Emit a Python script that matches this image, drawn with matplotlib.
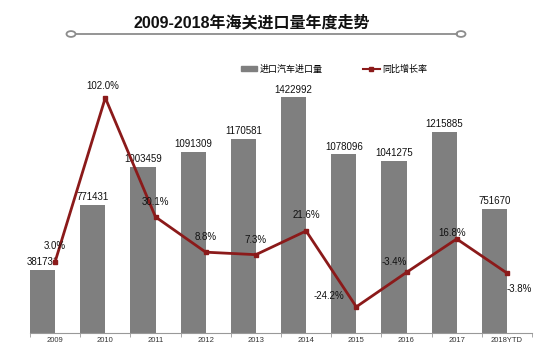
import matplotlib
matplotlib.use("Agg")
import matplotlib.pyplot as plt
from matplotlib.patches import Circle
from matplotlib.lines import Line2D
from matplotlib.patches import Patch

plt.rcParams['font.family'] = ['Liberation Sans', 'Noto Sans CJK SC', 'DejaVu Sans']

years = ['2009', '2010', '2011', '2012', '2013', '2014', '2015', '2016', '2017', '2018YTD']
volume = [381731, 771431, 1003459, 1091309, 1170581, 1422992, 1078096, 1041275, 1215885, 751670]
growth = [3.0, 102.0, 30.1, 8.8, 7.3, 21.6, -24.2, -3.4, 16.8, -3.8]

bar_color = '#7f7f7f'
line_color = '#8b1a1a'

fig = plt.figure(figsize=(5.5, 3.55), dpi=100)
ax = fig.add_axes([30 / 550, 1 - 333 / 355, 502 / 550, 265 / 355])
ax2 = ax.twinx()

x = list(range(len(years)))
ax.bar([i - 0.25 for i in x], volume, width=0.5, color=bar_color, zorder=2)
for i, v in zip(x, volume):
    ax.annotate(str(v), (i - 0.25, v), xytext=(0, 2), textcoords='offset points',
                ha='center', va='bottom', fontsize=7, color='#111111')

ax.set_xlim(-0.5, len(years) - 0.5)
ax.set_ylim(0, 1600000)
ax.set_yticks([])
ax.set_xticks(x)
ax.set_xticklabels(years, fontsize=5.5, color='#333333')
ax.tick_params(axis='x', length=0, pad=3)
ax.set_xticks([i - 0.5 for i in range(len(years) + 1)], minor=True)
ax.tick_params(axis='x', which='minor', length=3, color='#999999')
for s in ['top', 'right', 'left']:
    ax.spines[s].set_visible(False)
ax.spines['bottom'].set_color('#999999')

ax2.plot(x, growth, color=line_color, lw=2, marker='s', ms=3.5, zorder=3)
ax2.set_ylim(-40, 120)
ax2.set_yticks([])
for s in ax2.spines.values():
    s.set_visible(False)

# label offsets (points) for the growth labels
offs = [(0, 8), (-2, 5), (0, 7), (0, 7), (0, 7), (0, 8), (-20, 4), (-9, 4), (-3, 1), (9, -15)]
for i, g, o in zip(x, growth, offs):
    ax2.annotate('%.1f%%' % g, (i, g), xytext=o, textcoords='offset points',
                 ha='center', va='bottom', fontsize=7, color='#111111')

# title and decorative rule
fig.text(252 / 550, 1 - 22 / 355, '2009-2018年海关进口量年度走势', ha='center', va='center',
         fontsize=11.5, fontweight='bold', color='#111111')
fig.add_artist(Line2D([76 / 550, 457 / 550], [1 - 34 / 355, 1 - 34 / 355],
                      transform=fig.transFigure, color='#8c8c8c', lw=1.3))
for cx in (71, 461):
    fig.add_artist(Circle((cx / 550, 1 - 34 / 355), 4.5 / 550, transform=fig.transFigure,
                          facecolor='white', edgecolor='#8c8c8c', lw=1.3))

handles = [Patch(color=bar_color, label='进口汽车进口量'),
           Line2D([], [], color=line_color, lw=1.5, marker='s', ms=2.5, label='同比增长率')]
fig.legend(handles=handles, loc='center', bbox_to_anchor=(334 / 550, 1 - 69 / 355), ncol=2,
           frameon=False, fontsize=6.5, handlelength=1.8, handleheight=0.5,
           columnspacing=4.5, handletextpad=0.3)

fig.savefig('out.png', dpi=100)
